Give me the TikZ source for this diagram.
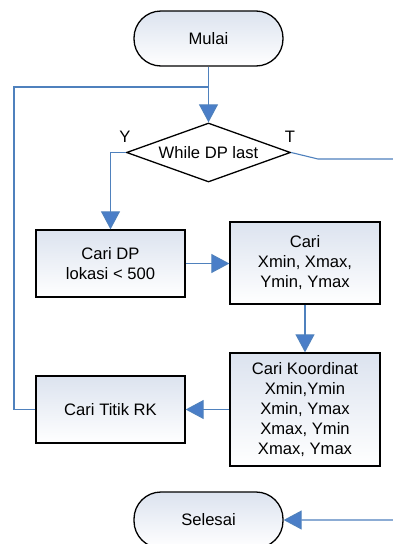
\documentclass[tikz,border=0pt]{standalone}
\usepackage{fontspec}
\setmainfont{Liberation Sans}
\usetikzlibrary{arrows.meta,shapes.geometric}
\definecolor{conn}{HTML}{4F81BD}
\definecolor{arrowc}{HTML}{4A7EC8}
\definecolor{topc}{HTML}{DCE3EF}
\begin{document}
\begin{tikzpicture}[x=1pt,y=-1pt,
  txt/.style={font=\fontsize{16.6}{20}\selectfont,align=center,inner sep=0pt},
  box/.style={txt,draw=black,line width=1.3pt,top color=topc,bottom color=white,rectangle},
  term/.style={box,rounded corners=27pt,minimum width=149pt,minimum height=55pt},
  deci/.style={txt,draw=black,line width=1.3pt,fill=white,diamond,minimum width=164pt,minimum height=59pt,aspect=2.78},
  conline/.style={draw=conn,line width=1.1pt},
  arr/.style={conline,-{Triangle[length=18pt,width=19pt,fill=arrowc]}},
  lbl/.style={font=\fontsize{16.6}{20}\selectfont,inner sep=0pt}]
\useasboundingbox (0,0) rectangle (393,544);
\fill[white] (0,0) rectangle (393,544);
\node[term] (mulai) at (208.5,38.5) {Mulai};
\node[deci] (dec) at (208.5,152.5) {While DP last};
\node[lbl] (ylab) at (125,137) {Y};
\node[lbl] (tlab) at (290,137) {T};
\node[box,minimum width=149pt,minimum height=67pt] (caridp) at (110.5,263.5) {Cari DP\\lokasi < 500};
\node[box,minimum width=150pt,minimum height=82pt] (xmin) at (305,263) {Cari\\Xmin, Xmax,\\Ymin, Ymax};
\node[box,minimum width=150pt,minimum height=113pt] (koord) at (305,409.5) {Cari Koordinat\\Xmin,Ymin\\Xmin, Ymax\\Xmax, Ymin\\Xmax, Ymax};
\node[box,minimum width=149pt,minimum height=67pt] (titik) at (110.5,409.5) {Cari Titik RK};
\node[term,minimum height=56pt] (selesai) at (208.5,520) {Selesai};
\coordinate (lp) at (14,87);
\coordinate (tb) at (318,159);
\coordinate (tr) at (400,159);
\coordinate (br) at (400,520);
\draw[arr] (mulai.south) -- (dec.north);
\draw[conline] (titik.west) -| (lp) -- (mulai.south |- lp);
\draw[arr] (dec.west) -| (caridp.north);
\draw[arr] (dec.east) -- (tb) -- (tr) -- (br) -- (selesai.east);
\draw[arr] (caridp.east) -- (xmin.west |- caridp.east);
\draw[arr] (xmin.south) -- (koord.north);
\draw[arr] (koord.west |- titik.east) -- (titik.east);
\end{tikzpicture}
\end{document}
